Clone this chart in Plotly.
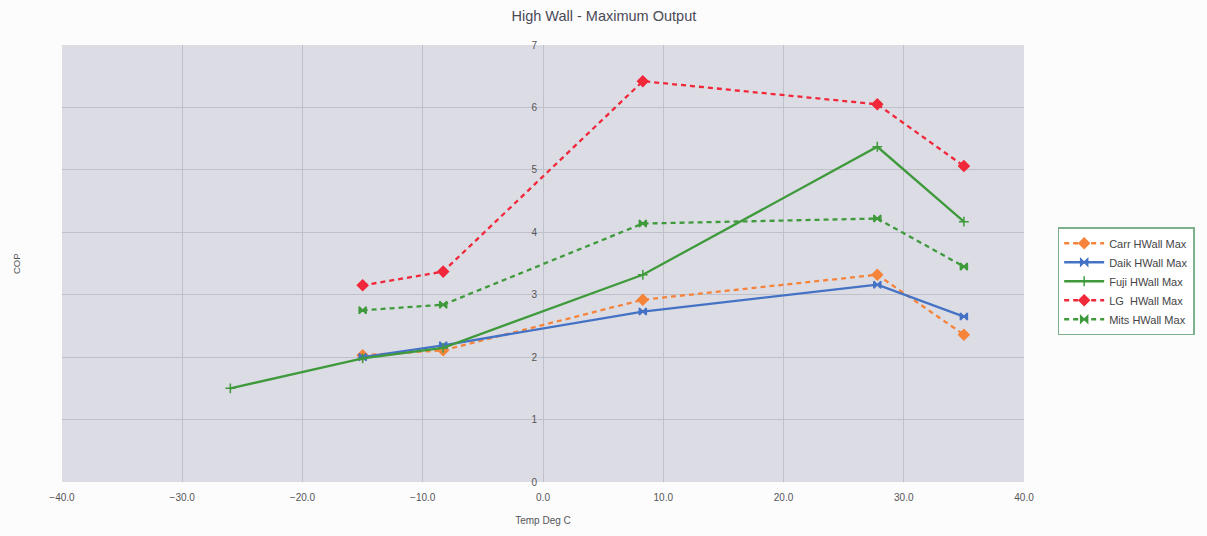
import plotly.graph_objects as go

temps5 = [-15.0, -8.3, 8.3, 27.8, 35.0]
fuji_temps = [-26.0, -15.0, -8.3, 8.3, 27.8, 35.0]

carr = [2.03, 2.11, 2.92, 3.32, 2.36]
daik = [2.00, 2.19, 2.73, 3.16, 2.65]
fuji = [1.50, 1.98, 2.15, 3.32, 5.37, 4.17]
lg = [3.15, 3.37, 6.42, 6.05, 5.06]
mits = [2.75, 2.84, 4.14, 4.22, 3.45]

series = [
    ("Carr HWall Max", temps5, carr, "#f5843a", "dash", "diamond", 8),
    ("Daik HWall Max", temps5, daik, "#4472c4", "solid", "bowtie", 7),
    ("Fuji HWall Max", fuji_temps, fuji, "#3f9a3c", "solid", "cross-thin-open", 7),
    ("LG  HWall Max", temps5, lg, "#f0283a", "dash", "diamond", 8),
    ("Mits HWall Max", temps5, mits, "#3f9a3c", "dash", "bowtie", 7),
]

fig = go.Figure()
for name, xs, ys, col, dash, sym, sz in series:
    fig.add_trace(go.Scatter(
        x=xs, y=ys, name=name, mode="lines+markers",
        line=dict(color=col, width=2.3, dash="5px,4px" if dash == "dash" else "solid"),
        marker=dict(symbol=sym, size=sz, color=col, line=dict(color=col, width=1.5)),
    ))

W, H = 1207, 536
L, R, T, B = 62, 181, 45, 52
pw, ph = W - L - R, H - T - B

fig.update_layout(
    width=W, height=H,
    margin=dict(l=L, r=R, t=T, b=B),
    paper_bgcolor="#fcfcfd",
    plot_bgcolor="#dcdce5",
    font=dict(family="Liberation Sans, Arial, sans-serif", size=10, color="#444"),
    title=dict(text="High Wall - Maximum Output", x=(605 - L) / pw, xref="paper", xanchor="center",
               y=1 - 16 / H, yref="container", yanchor="middle",
               font=dict(size=14.5, color="#4a4a55")),
    xaxis=dict(range=[-40, 40], dtick=10, tick0=-40, tickformat=".1f",
               showgrid=True, gridcolor="#c0c0ca", gridwidth=1, zeroline=False,
               showline=False, ticks="", tickfont=dict(size=10, color="#555"), ticklabelstandoff=8,
               title=dict(text="Temp Deg C", font=dict(size=10, color="#555"), standoff=14)),
    yaxis=dict(range=[0, 7], dtick=1, anchor="free", position=0.5,
               showgrid=True, gridcolor="#c0c0ca", gridwidth=1, zeroline=False,
               showline=False, ticks="", tickfont=dict(size=10, color="#555"), ticklabelstandoff=6),
    legend=dict(x=1.035, y=0.583, xanchor="left", yanchor="top",
                bgcolor="#ffffff", bordercolor="#7fb08e", borderwidth=1.5,
                font=dict(size=11, color="#444"), tracegroupgap=0, itemwidth=40),
    annotations=[dict(text="COP", x=(17 - L) / pw, y=(H - B - 265) / ph, xref="paper", yref="paper",
                      showarrow=False, textangle=-90, xanchor="center", yanchor="middle",
                      font=dict(size=9.5, color="#555"))],
)

fig.write_html("out.html")
